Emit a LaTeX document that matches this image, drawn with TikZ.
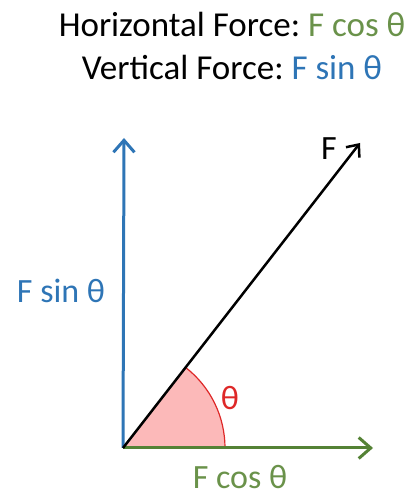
\documentclass[tikz,border=0pt]{standalone}
\usepackage{fontspec}
\setmainfont{Carlito}
\usetikzlibrary{arrows.meta}
\frenchspacing
\definecolor{fgreen}{RGB}{84,130,53}
\definecolor{tgreen}{RGB}{106,146,74}
\definecolor{fblue}{RGB}{46,117,182}
\definecolor{fred}{RGB}{222,40,40}
\definecolor{fpink}{RGB}{252,185,185}
\begin{document}
\begin{tikzpicture}[x=1pt,y=1pt,
  vec/.style={line width=3pt,-{Straight Barb[length=12pt,width=21pt,line width=3pt]}},
  lbl/.style={font=\fontsize{34}{38}\selectfont,inner sep=0pt,anchor=base},
  ttl/.style={font=\fontsize{35}{40}\selectfont,inner sep=0pt,anchor=base}]
\useasboundingbox (0,0) rectangle (416,496);
\coordinate (O) at (123,48);
\coordinate (H) at (373,48);
\coordinate (V) at (124,358);
\coordinate (Fe) at (360,353);
\fill[fpink] (O) -- ++(102,0) arc[start angle=0,end angle=52,radius=102] -- cycle;
\draw[fred,line width=1.2pt] (O) ++(102,0) arc[start angle=0,end angle=52,radius=102];
\draw[vec,fblue] (O) -- (V);
\draw[vec,fgreen] (O) -- (H);
\draw[black,line width=2.5pt,-{Straight Barb[length=10pt,width=17pt,line width=2.5pt]}] (O) -- (Fe);
\node[ttl] (t1) at (232,459) {Horizontal Force: \textcolor{tgreen}{F cos θ}};
\node[ttl] (t2) at (232,416) {Vertical Force: \textcolor{fblue}{F sin θ}};
\node[lbl] (fl) at (329,336) {F};
\node[lbl,text=fred] (th) at (230,86) {θ};
\node[lbl,text=tgreen] (fc) at (240,8) {F cos θ};
\node[lbl,text=fblue] (fs) at (61,193) {F sin θ};
\end{tikzpicture}
\end{document}
